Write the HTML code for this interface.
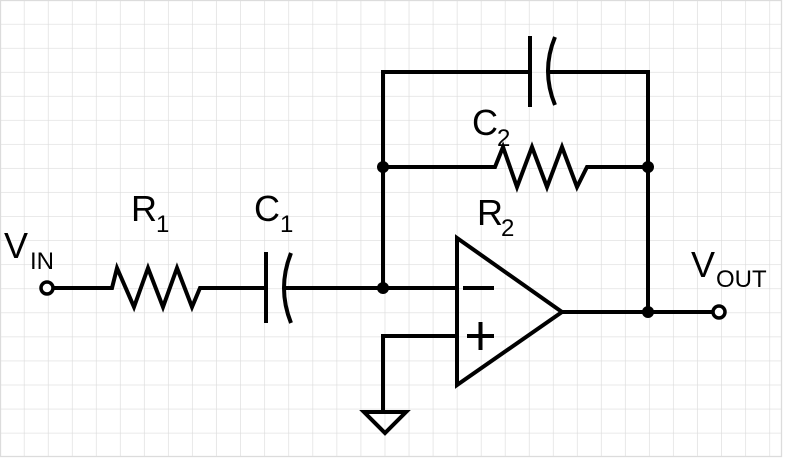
<!DOCTYPE html>
<html><head><meta charset="utf-8"><style>
html,body{margin:0;padding:0;background:#fff;}
svg{display:block;}
text{font-family:"Liberation Sans",sans-serif;fill:#000;}
</style></head><body>
<svg width="785" height="458" viewBox="0 0 785 458" xmlns="http://www.w3.org/2000/svg">
<defs>
<pattern id="g" x="0.5" y="0.5" width="24.05" height="24.05" patternUnits="userSpaceOnUse">
<path d="M24.05 0V24.05M0 24.05H24.05" stroke="#dcdcdc" stroke-width="1.3" fill="none"/>
</pattern>
</defs>
<rect x="0" y="0" width="782" height="457" fill="url(#g)"/>
<rect x="0.5" y="0.5" width="781" height="456" fill="none" stroke="#dcdcdc" stroke-width="1.3"/>
<g stroke="#000" stroke-width="4" fill="none" stroke-linejoin="miter">
<path d="M53 288H112L117 268L134 307L148 268L163 307L177 268L192 307L200 288H266"/>
<path d="M266 252V323"/>
<path d="M291 253Q277 288 291 323"/>
<path d="M285 288H457"/>
<path d="M383 288V72H530M530 36V107"/>
<path d="M555 37Q541 71 555 105"/>
<path d="M549 72H648V312"/>
<path d="M383 167H495L503 147L517 187L532 147L547 187L562 147L577 187L587 167H648"/>
<path d="M457 238V385L562 312Z"/>
<path d="M463 288H494M467 336H494M480.5 322V350"/>
<path d="M562 312H713"/>
<path d="M457 336H383V412"/>
<path d="M364 412H406L385 433Z"/>
</g>
<circle cx="47" cy="288" r="6" fill="#fff" stroke="#000" stroke-width="3.5"/>
<circle cx="719" cy="312" r="6" fill="#fff" stroke="#000" stroke-width="3.5"/>
<g fill="#000">
<circle cx="383" cy="288" r="6"/><circle cx="383" cy="167" r="6"/>
<circle cx="648" cy="167" r="6"/><circle cx="648" cy="312" r="6"/>
</g>
<text x="4" y="258" font-size="36">V</text><text x="30" y="269" font-size="24">IN</text>
<text x="131" y="221" font-size="36">R</text><text x="156" y="232" font-size="24">1</text>
<text x="254" y="221" font-size="36">C</text><text x="280" y="232" font-size="24">1</text>
<text x="472" y="135" font-size="36">C</text><text x="497" y="146" font-size="24">2</text>
<text x="477" y="225" font-size="36">R</text><text x="501" y="236" font-size="24">2</text>
<text x="691" y="277" font-size="36">V</text><text x="716" y="287" font-size="24">OUT</text>
</svg>
</body></html>
